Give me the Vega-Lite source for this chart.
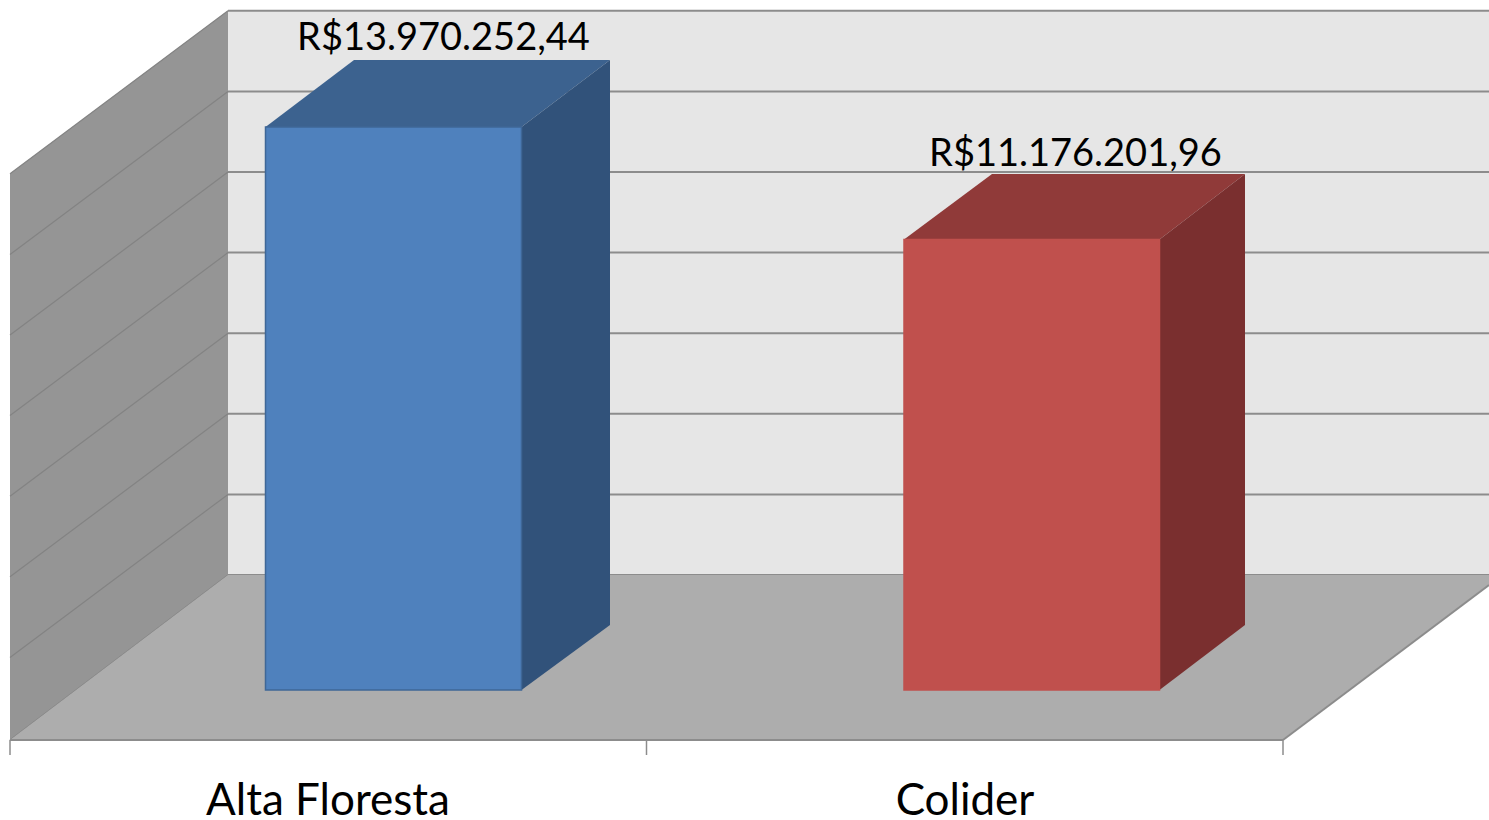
{
"$schema":"https://vega.github.io/schema/vega-lite/v6.json",
"autosize":{"type":"none"},
"width":1489,"height":820,"padding":0,"background":"white",
"config":{"view":{"stroke":null}},
"datasets":{
"fundo":[{"x":228,"x2":1489,"y":16853599,"y2":2853599}],
"grade":[{"x":228,"x2":1489,"y":2853599},{"x":228,"x2":1489,"y":4853599},{"x":228,"x2":1489,"y":6853599},{"x":228,"x2":1489,"y":8853599},{"x":228,"x2":1489,"y":10853599},{"x":228,"x2":1489,"y":12853599},{"x":228,"x2":1489,"y":14853599},{"x":228,"x2":1489,"y":16853599}],
"parede":[{"face":"parede","x":10,"y":12808933,"y2":-1240695},{"face":"parede","x":228,"y":16853599,"y2":2853599}],
"linhas":[
{"k":0,"x":10,"y":-1240695},{"k":0,"x":228,"y":2853599},
{"k":1,"x":10,"y":808933},{"k":1,"x":228,"y":4853599},
{"k":2,"x":10,"y":2808933},{"k":2,"x":228,"y":6853599},
{"k":3,"x":10,"y":4808933},{"k":3,"x":228,"y":8853599},
{"k":4,"x":10,"y":6808933},{"k":4,"x":228,"y":10853599},
{"k":5,"x":10,"y":8808933},{"k":5,"x":228,"y":12853599},
{"k":6,"x":10,"y":10808933},{"k":6,"x":228,"y":14853599},
{"k":7,"x":10,"y":12808933},{"k":7,"x":228,"y":16853599}],
"piso":[{"face":"piso","y":2853599,"x":228,"x2":1502},{"face":"piso","y":-1240695,"x":10,"x2":1283}],
"bordas":[{"k":"direita","x":1283,"y":-1240695},{"k":"direita","x":1489,"y":2605460},{"k":"base","x":10,"y":-1240695},{"k":"base","x":1283,"y":-1240695}],
"topos":[
{"face":"topo Alta Floresta","y":15632757,"x":354,"x2":610},{"face":"topo Alta Floresta","y":13970252.44,"x":265.5,"x2":521.5},
{"face":"topo Colider","y":12803972,"x":992,"x2":1245},{"face":"topo Colider","y":11176201.96,"x":904,"x2":1159.5}],
"lados":[
{"face":"lado Alta Floresta","x":521.5,"y":13970252.44,"y2":0},{"face":"lado Alta Floresta","x":610,"y":15632757,"y2":1612904},
{"face":"lado Colider","x":1159.5,"y":11176201.96,"y2":0},{"face":"lado Colider","x":1245,"y":12803972,"y2":1612904}],
"frentes":[
{"municipio":"Alta Floresta","x":265.5,"x2":521.5,"y":13970252.44,"y2":0},
{"municipio":"Colider","x":904,"x2":1159.5,"y":11176201.96,"y2":0}],
"rotulos":[
{"texto":"R$13.970.252,44","x":443.5,"y":15880896},
{"texto":"R$11.176.201,96","x":1075.5,"y":13002484}],
"categorias":[
{"texto":"Alta Floresta","x":328,"y":-3101738},
{"texto":"Colider","x":965,"y":-3101738}],
"marcas":[{"x":10,"y":-1240695,"y2":-1612904},{"x":646.5,"y":-1240695,"y2":-1612904},{"x":1283,"y":-1240695,"y2":-1612904}]
},
"encoding":{
"x":{"field":"x","type":"quantitative","axis":null,"scale":{"domain":[0,1489],"nice":false,"zero":false}},
"y":{"field":"y","type":"quantitative","axis":null,"scale":{"domain":[-3225807,17121591],"nice":false,"zero":false}}
},
"layer":[
{"data":{"name":"fundo"},"mark":{"type":"rect","color":"#e6e6e6"},"encoding":{"x2":{"field":"x2"},"y2":{"field":"y2"}}},
{"data":{"name":"grade"},"mark":{"type":"rule","color":"#8c8c8c","strokeWidth":2},"encoding":{"x2":{"field":"x2"}}},
{"data":{"name":"parede"},"mark":{"type":"area","color":"#959595"},"encoding":{"y2":{"field":"y2"}}},
{"data":{"name":"linhas"},"mark":{"type":"line","color":"#838383","strokeWidth":1.2},"encoding":{"detail":{"field":"k"}}},
{"data":{"name":"piso"},"mark":{"type":"area","orient":"horizontal","color":"#adadad","clip":true},"encoding":{"x2":{"field":"x2"}}},
{"data":{"name":"bordas"},"mark":{"type":"line","color":"#8c8c8c","strokeWidth":2,"clip":true},"encoding":{"detail":{"field":"k"}}},
{"data":{"name":"marcas"},"mark":{"type":"rule","color":"#8c8c8c","strokeWidth":1.5},"encoding":{"y2":{"field":"y2"}}},
{"data":{"name":"topos"},"mark":{"type":"area","orient":"horizontal"},"encoding":{"x2":{"field":"x2"},"color":{"field":"face","type":"nominal","legend":null,"scale":{"domain":["topo Alta Floresta","topo Colider"],"range":["#3c628f","#903a39"]}}}},
{"data":{"name":"lados"},"mark":{"type":"area"},"encoding":{"y2":{"field":"y2"},"fill":{"field":"face","type":"nominal","legend":null,"scale":{"domain":["lado Alta Floresta","lado Colider"],"range":["#31527a","#7a2f2f"]}}}},
{"data":{"name":"frentes"},"mark":{"type":"rect","strokeWidth":1.5},"encoding":{"x2":{"field":"x2"},"y2":{"field":"y2"},"fill":{"field":"municipio","type":"nominal","legend":null,"scale":{"name":"frente","domain":["Alta Floresta","Colider"],"range":["#4f81bd","#c0504d"]}},"stroke":{"field":"municipio","type":"nominal","legend":null,"scale":{"domain":["Alta Floresta","Colider"],"range":["#3f6797","#c0504d"]}}}},
{"data":{"name":"rotulos"},"mark":{"type":"text","font":"Lato","fontSize":38,"align":"center","baseline":"alphabetic","color":"#000000"},"encoding":{"text":{"field":"texto"}}},
{"data":{"name":"categorias"},"mark":{"type":"text","font":"Lato","fontSize":44,"align":"center","baseline":"alphabetic","color":"#000000"},"encoding":{"text":{"field":"texto"}}}
],
"resolve":{"scale":{"color":"independent","fill":"independent","stroke":"independent"}}
}
